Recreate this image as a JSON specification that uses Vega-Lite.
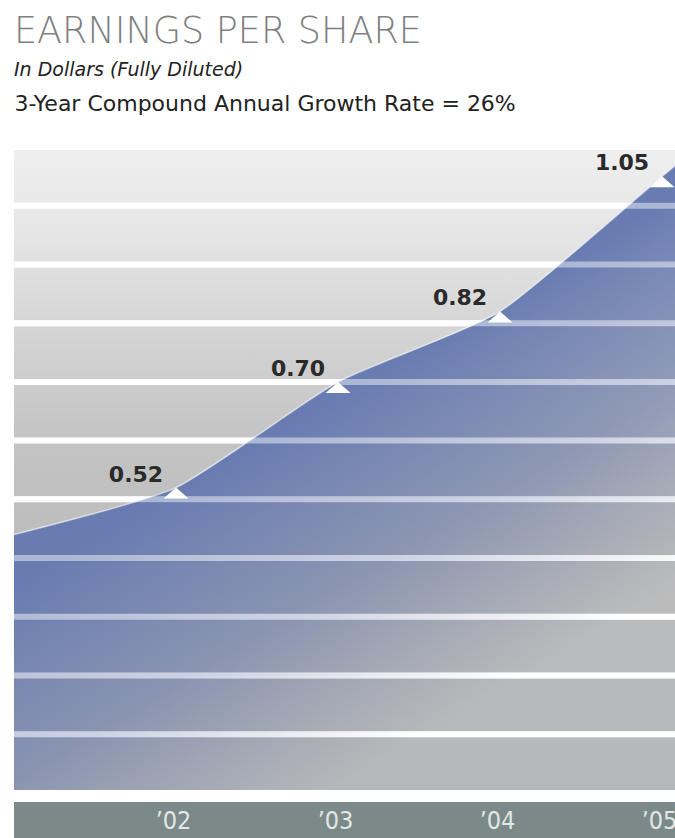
{
  "$schema": "https://vega.github.io/schema/vega-lite/v6.json",
  "width": 661,
  "height": 643,
  "autosize": {"type": "none"},
  "padding": {"left": 14, "top": 147, "right": 0, "bottom": 48},
  "background": "white",
  "title": {
    "text": "EARNINGS PER SHARE",
    "subtitle": "In Dollars (Fully Diluted)",
    "anchor": "start",
    "frame": "group",
    "font": "DejaVu Sans",
    "fontSize": 36.5,
    "fontWeight": 300,
    "color": "#808080",
    "subtitleFont": "DejaVu Sans",
    "subtitleFontSize": 19,
    "subtitleFontStyle": "italic",
    "subtitleColor": "#222222",
    "subtitlePadding": 11,
    "offset": 12
  },
  "config": {
    "view": {
      "stroke": null,
      "fill": {
        "gradient": "linear",
        "x1": 0, "y1": 0, "x2": 0, "y2": 1,
        "stops": [
          {"offset": 0, "color": "#efefef"},
          {"offset": 0.15, "color": "#e4e4e4"},
          {"offset": 0.3, "color": "#d3d3d3"},
          {"offset": 0.45, "color": "#c4c4c4"},
          {"offset": 0.6, "color": "#bdbdbd"},
          {"offset": 1, "color": "#b5b7ba"}
        ]
      }
    },
    "axisY": {
      "domain": false,
      "ticks": false,
      "labels": false,
      "grid": false,
      "titleAngle": 0,
      "titleX": 0,
      "titleY": -37,
      "titleAlign": "left",
      "titleAnchor": null,
      "titleBaseline": "alphabetic",
      "titleFont": "DejaVu Sans",
      "titleFontSize": 22,
      "titleFontWeight": "normal",
      "titleColor": "#222222"
    }
  },
  "datasets": {
    "eps": [
      {"year": 2001, "eps": 0.44},
      {"year": 2002, "eps": 0.52, "label": "0.52"},
      {"year": 2003, "eps": 0.70, "label": "0.70"},
      {"year": 2004, "eps": 0.82, "label": "0.82"},
      {"year": 2005, "eps": 1.05, "label": "1.05"},
      {"year": 2005.08, "eps": 1.068}
    ],
    "stripes": [
      {"level": 0.1}, {"level": 0.2}, {"level": 0.3}, {"level": 0.4},
      {"level": 0.5}, {"level": 0.6}, {"level": 0.7}, {"level": 0.8},
      {"level": 0.9}, {"level": 1.0}, {"level": 1.1}
    ],
    "axisband": [{"part": "x-axis band"}]
  },
  "layer": [
    {
      "data": {"name": "stripes"},
      "mark": {"type": "rule", "color": "white", "strokeWidth": 6},
      "encoding": {
        "y": {"field": "level", "type": "quantitative", "scale": {"domain": [0.005, 1.1], "nice": false, "zero": false}, "title": "3-Year Compound Annual Growth Rate = 26%"}
      }
    },
    {
      "data": {"name": "axisband"},
      "mark": {"type": "rect", "color": "#7b8a88", "clip": false},
      "encoding": {
        "x": {"datum": 2001, "type": "quantitative"},
        "x2": {"datum": 2005.08},
        "y": {"datum": -0.0155, "type": "quantitative"},
        "y2": {"datum": -0.08}
      }
    },
    {
      "data": {"name": "eps"},
      "mark": {
        "type": "area",
        "interpolate": "cardinal",
        "tension": 0.45,
        "clip": true,
        "fill": {
          "gradient": "linear",
          "x1": 0.32, "y1": 0.47, "x2": 0.6, "y2": 0.92,
          "stops": [
            {"offset": 0, "color": "rgba(104,124,178,1)"},
            {"offset": 0.5, "color": "rgba(110,126,172,0.62)"},
            {"offset": 1, "color": "rgba(120,130,160,0)"}
          ]
        }
      },
      "encoding": {
        "x": {
          "field": "year", "type": "quantitative",
          "scale": {"domain": [2001, 2005.08], "nice": false, "zero": false},
          "axis": {
            "values": [2002, 2003, 2004, 2005],
            "labelExpr": "'\u2019' + substring(toString(datum.value), 2)",
            "title": null,
            "zindex": 2,
            "domain": false,
            "ticks": false,
            "tickSize": 0,
            "grid": false,
            "offset": 30.5,
            "labelPadding": 0,
            "labelBaseline": "middle",
            "labelFont": "DejaVu Sans Condensed, Liberation Sans, sans-serif",
            "labelFontSize": 25,
            "labelColor": "#e2e6e6",
            "labelOffset": -3,
            "labelFlush": false,
            "labelOverlap": false
          }
        },
        "y": {"field": "eps", "type": "quantitative", "title": "3-Year Compound Annual Growth Rate = 26%"}
      }
    },
    {
      "data": {"name": "stripes"},
      "mark": {"type": "rule", "color": "white", "strokeWidth": 6, "opacity": 0.45},
      "encoding": {
        "y": {"field": "level", "type": "quantitative", "title": "3-Year Compound Annual Growth Rate = 26%"}
      }
    },
    {
      "data": {"name": "eps"},
      "mark": {"type": "line", "interpolate": "cardinal", "tension": 0.45, "clip": true, "color": "white", "strokeWidth": 1.5, "opacity": 0.6},
      "encoding": {
        "x": {"field": "year", "type": "quantitative"},
        "y": {"field": "eps", "type": "quantitative", "title": "3-Year Compound Annual Growth Rate = 26%"}
      }
    },
    {
      "data": {"name": "eps"},
      "transform": [{"filter": "isValid(datum.label)"}],
      "mark": {"type": "point", "shape": "M0,0L1,0.88L-1,0.88Z", "filled": true, "color": "white", "opacity": 1, "size": 625, "strokeWidth": 0},
      "encoding": {
        "x": {"field": "year", "type": "quantitative"},
        "y": {"field": "eps", "type": "quantitative", "title": "3-Year Compound Annual Growth Rate = 26%"}
      }
    },
    {
      "data": {"name": "eps"},
      "transform": [{"filter": "isValid(datum.label)"}],
      "mark": {"type": "text", "font": "DejaVu Sans", "fontWeight": "bold", "fontSize": 22, "color": "#2a2a2a", "align": "center", "baseline": "middle", "dx": -40, "dy": -13},
      "encoding": {
        "x": {"field": "year", "type": "quantitative"},
        "y": {"field": "eps", "type": "quantitative", "title": "3-Year Compound Annual Growth Rate = 26%"},
        "text": {"field": "label"}
      }
    }
  ]
}
